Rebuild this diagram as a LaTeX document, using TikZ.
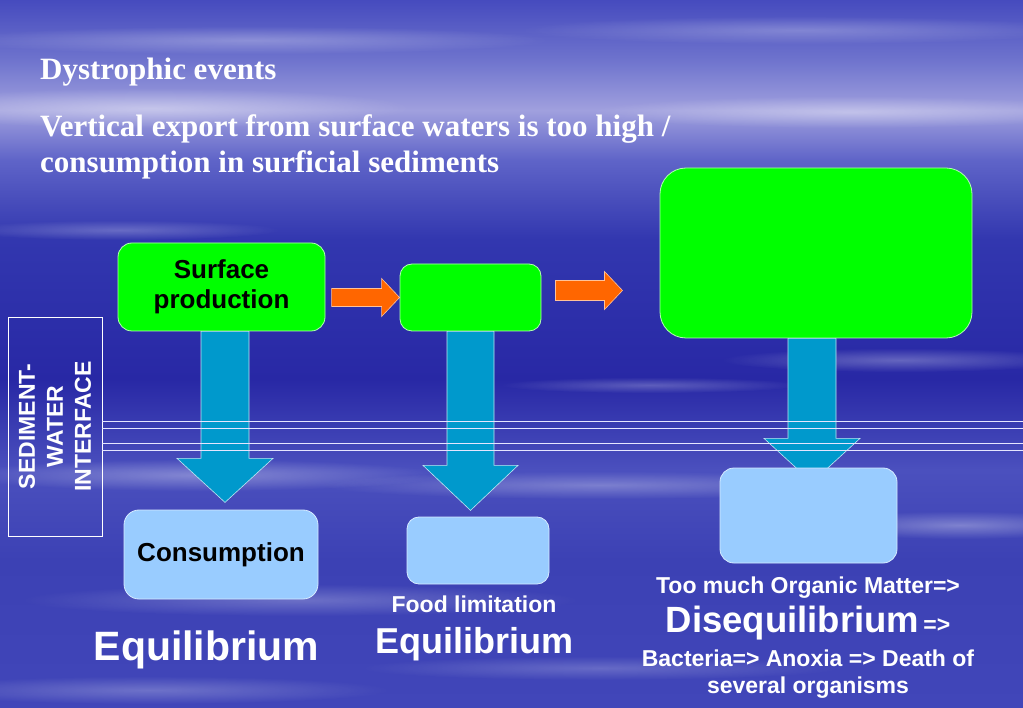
\documentclass[tikz,border=0pt]{standalone}
\usepackage{fontspec}
\setmainfont{Liberation Serif}
\setsansfont{Liberation Sans}
\usetikzlibrary{positioning,fadings}

\definecolor{boxgreen}{HTML}{00FF00}
\definecolor{boxblue}{HTML}{99CCFF}
\definecolor{arrowblue}{HTML}{0099CC}
\definecolor{arroworange}{HTML}{FF6600}
\definecolor{sea0}{HTML}{464BBE}
\definecolor{sea1}{HTML}{6E73CD}
\definecolor{sea2}{HTML}{A0A0DE}
\definecolor{sea3}{HTML}{5F64C8}
\definecolor{sea4}{HTML}{3237AF}
\definecolor{sea5}{HTML}{2828A5}
\definecolor{sea6}{HTML}{4B50BE}
\definecolor{sea7}{HTML}{3C41B4}
\definecolor{sea8}{HTML}{4146B9}

\pgfdeclareverticalshading{sea}{100bp}{color(0bp)=(sea8); color(25bp)=(sea8);
  color(35.4bp)=(sea7); color(41.8bp)=(sea6); color(48.2bp)=(sea5);
  color(58.1bp)=(sea4); color(63.7bp)=(sea3); color(67.2bp)=(sea2);
  color(70.8bp)=(sea1); color(75bp)=(sea0); color(100bp)=(sea0)}

\tikzfading[name=softstreak, inner color=transparent!20, outer color=transparent!100]

\begin{document}
\begin{tikzpicture}
[x=1pt, y=-1pt,
    font=\sffamily\bfseries,
    every node/.style={inner sep=0pt, align=center},
    greenbox/.style={fill=boxgreen, draw=white!70!boxgreen, line width=0.8pt},
    bluebox/.style={fill=boxblue, draw=white!60!boxblue, line width=0.8pt},
    boxtext/.style={text=black, font=\sffamily\bfseries\fontsize{26}{30}\selectfont},
    bluearrow/.style={fill=arrowblue, draw=white!75!arrowblue, line width=0.6pt},
    orangearrow/.style={fill=arroworange, draw=white!60!arroworange, line width=0.6pt},
    sedline/.style={draw=white!90!blue, line width=0.7pt},
    streak/.style={fill=white, path fading=softstreak},
    headtext/.style={text=white, anchor=base west, font=\rmfamily\bfseries\fontsize{31}{36}\selectfont},
    whitetext/.style={text=white, anchor=base},
    ]
    % sea background
    \shade[shading=sea] (0,0) rectangle (1023,708);
    \useasboundingbox (0,0) rectangle (1023,708);
    \foreach \sx/\sy/\rx/\ry/\op in {250/40/300/14/.35, 800/30/280/14/.3,
        150/108/260/20/.5, 850/112/260/16/.45, 120/230/160/10/.3,
        900/360/180/12/.35, 650/385/150/8/.3, 200/475/240/16/.4,
        600/485/280/14/.35, 960/525/150/14/.4, 300/600/280/16/.3,
        150/690/240/14/.3, 600/668/240/12/.25}
      \fill[streak, opacity=\op] (\sx,\sy) ellipse [x radius=\rx pt, y radius=\ry pt];

    % heading
    \node[headtext] (title) at (40,80) {Dystrophic events};
    \node[headtext] (desc1) at (40,137) {Vertical export from surface waters is too high /};
    \node[headtext] (desc2) at (40,173) {consumption in surficial sediments};

    % upper boxes
    \node[greenbox, boxtext, rounded corners=14pt, minimum width=207pt, minimum height=88pt]
        (sp) at (221.5,287) {Surface\\production};
    \node[greenbox, rounded corners=12pt, minimum width=141pt, minimum height=67pt]
        (fl) at (470.5,297.5) {};
    \node[greenbox, rounded corners=26pt, minimum width=312pt, minimum height=170pt]
        (dis) at (816,253) {};

    % interface
    \node[draw=white, line width=0.8pt, rotate=90, minimum width=219pt, minimum height=94pt,
        text=white, font=\sffamily\bfseries\fontsize{23}{28}\selectfont]
        (swi) at (55,426.5) {SEDIMENT-\\WATER\\INTERFACE};

    % orange arrows
    \draw[orangearrow] (fl.west) -- ++(-18,19) -- ++(0,-10) -- ++(-50,0) -- ++(0,-18)
        -- ++(50,0) -- ++(0,-10) -- cycle;
    \coordinate (o2) at (622.5,290.5);
    \draw[orangearrow] (o2) -- ++(-18,19) -- ++(0,-9) -- ++(-49,0) -- ++(0,-20)
        -- ++(49,0) -- ++(0,-9) -- cycle;

    % export arrows
    \draw[bluearrow] ([xshift=-20.5pt]sp.south) -- ++(0,127) -- ++(-24,0) -- ++(48,44)
        -- ++(48,-44) -- ++(-24,0) -- ++(0,-127) -- cycle;
    \draw[bluearrow] ([xshift=-23.5pt]fl.south) -- ++(0,134) -- ++(-24,0) -- ++(47.5,45)
        -- ++(47.5,-45) -- ++(-24,0) -- ++(0,-134) -- cycle;
    \draw[bluearrow] ([xshift=-28pt]dis.south) -- ++(0,100) -- ++(-24,0) -- ++(48,44)
        -- ++(48,-44) -- ++(-24,0) -- ++(0,-100) -- cycle;

    % sediment-water lines
    \foreach \ly in {421,428,443,450} {
      \coordinate (r\ly) at (1023,\ly);
      \draw[sedline] (swi.south |- r\ly) -- (r\ly);
    }

    % lower boxes
    \node[bluebox, boxtext, rounded corners=15pt, minimum width=194pt, minimum height=89pt]
        (con) at (221,554.5) {Consumption};
    \node[bluebox, rounded corners=12pt, minimum width=142pt, minimum height=67pt]
        (flb) at (478,550.5) {};
    \node[bluebox, rounded corners=14pt, minimum width=177pt, minimum height=95pt]
        (disb) at (808.5,515.5) {};

    % outcomes
    \node[whitetext, font=\sffamily\bfseries\fontsize{41}{48}\selectfont]
        (equ1) at (206.5,660) {Equilibrium};
    \node[whitetext, font=\sffamily\bfseries\fontsize{23}{27}\selectfont]
        (food) at (474,612) {Food limitation};
    \node[whitetext, font=\sffamily\bfseries\fontsize{36}{42}\selectfont]
        (equ2) at (474,653) {Equilibrium};
    \node[whitetext, font=\sffamily\bfseries\fontsize{23}{27}\selectfont]
        (om) at (808,593) {Too much Organic Matter=>};
    \node[whitetext, font=\sffamily\bfseries\fontsize{36.5}{42}\selectfont]
        (diseq) at (808,632) {Disequilibrium\kern4pt{\fontsize{23}{27}\selectfont=>}};
    \node[whitetext, font=\sffamily\bfseries\fontsize{23}{27}\selectfont]
        (bact) at (808,666) {Bacteria=> Anoxia => Death of};
    \node[whitetext, font=\sffamily\bfseries\fontsize{23}{27}\selectfont]
        (sev) at (808,693) {several organisms};

\end{tikzpicture}
\end{document}
